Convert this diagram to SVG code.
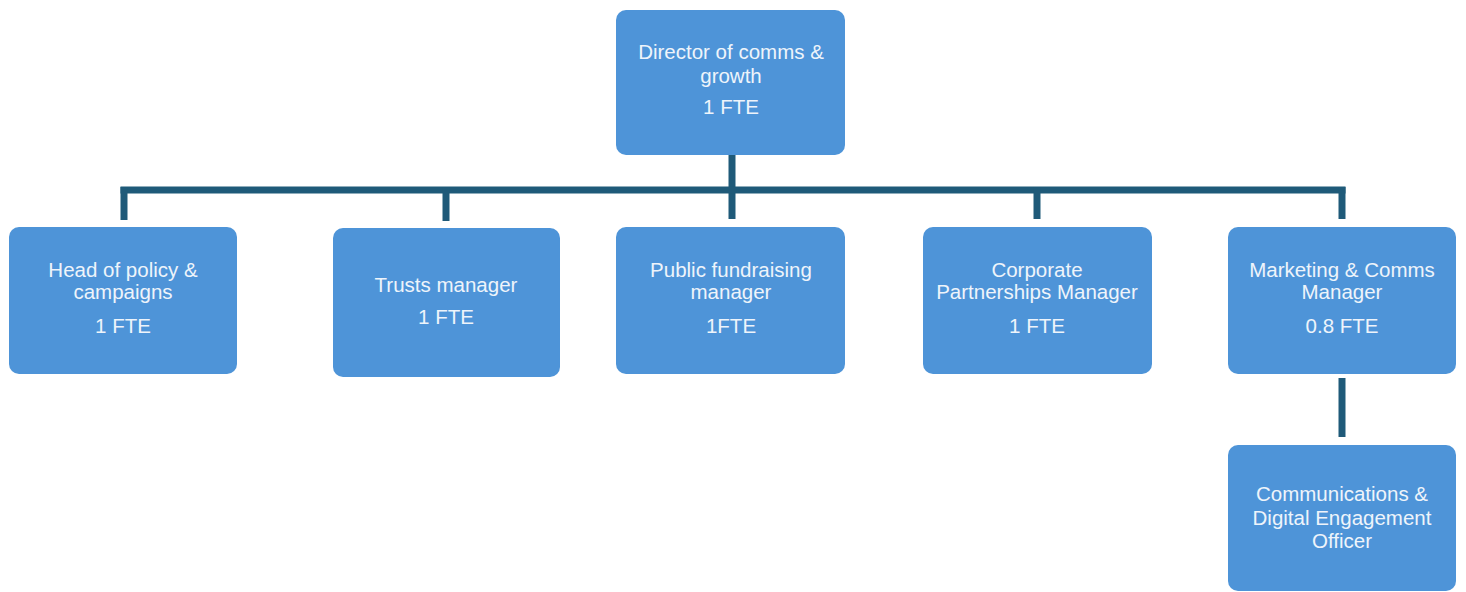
<svg xmlns="http://www.w3.org/2000/svg" width="1466" height="592" viewBox="0 0 1466 592">
  <style>
    .box { fill: #4E94D8; }
    .lbl { font-family: "Liberation Sans", Arial, sans-serif; font-size: 20.5px; fill: #EEF4FB; text-anchor: middle; }
    .wire { stroke: #1F5A79; stroke-width: 7; fill: none; stroke-linecap: butt; }
  </style>
  <rect width="1466" height="592" fill="#FFFFFF"/>

  <!-- reporting lines -->
  <g id="connectors">
    <line class="wire" x1="732" y1="155" x2="732" y2="219"/>
    <line class="wire" x1="120.5" y1="190" x2="1345.5" y2="190"/>
    <line class="wire" x1="124" y1="187" x2="124" y2="220"/>
    <line class="wire" x1="446" y1="187" x2="446" y2="221"/>
    <line class="wire" x1="1037" y1="187" x2="1037" y2="219"/>
    <line class="wire" x1="1342" y1="187" x2="1342" y2="219"/>
    <line class="wire" x1="1342" y1="378" x2="1342" y2="437"/>
  </g>

  <g id="director">
    <rect class="box" x="616" y="10" width="229" height="145" rx="10"/>
    <text class="lbl" x="731" y="59">Director of comms &amp;</text>
    <text class="lbl" x="731" y="83">growth</text>
    <text class="lbl" x="731" y="114">1 FTE</text>
  </g>

  <g id="head-policy">
    <rect class="box" x="9" y="227" width="228" height="147" rx="10"/>
    <text class="lbl" x="123" y="277">Head of policy &amp;</text>
    <text class="lbl" x="123" y="299">campaigns</text>
    <text class="lbl" x="123" y="333">1 FTE</text>
  </g>

  <g id="trusts">
    <rect class="box" x="333" y="228" width="227" height="149" rx="10"/>
    <text class="lbl" x="446" y="292">Trusts manager</text>
    <text class="lbl" x="446" y="324">1 FTE</text>
  </g>

  <g id="public-fundraising">
    <rect class="box" x="616" y="227" width="229" height="147" rx="10"/>
    <text class="lbl" x="731" y="277">Public fundraising</text>
    <text class="lbl" x="731" y="299">manager</text>
    <text class="lbl" x="731" y="333">1FTE</text>
  </g>

  <g id="corporate">
    <rect class="box" x="923" y="227" width="229" height="147" rx="10"/>
    <text class="lbl" x="1037" y="277">Corporate</text>
    <text class="lbl" x="1037" y="299">Partnerships Manager</text>
    <text class="lbl" x="1037" y="333">1 FTE</text>
  </g>

  <g id="marketing">
    <rect class="box" x="1228" y="227" width="228" height="147" rx="10"/>
    <text class="lbl" x="1342" y="277">Marketing &amp; Comms</text>
    <text class="lbl" x="1342" y="299">Manager</text>
    <text class="lbl" x="1342" y="333">0.8 FTE</text>
  </g>

  <g id="comms-officer">
    <rect class="box" x="1228" y="445" width="228" height="146" rx="10"/>
    <text class="lbl" x="1342" y="501">Communications &amp;</text>
    <text class="lbl" x="1342" y="525">Digital Engagement</text>
    <text class="lbl" x="1342" y="548">Officer</text>
  </g>
</svg>
